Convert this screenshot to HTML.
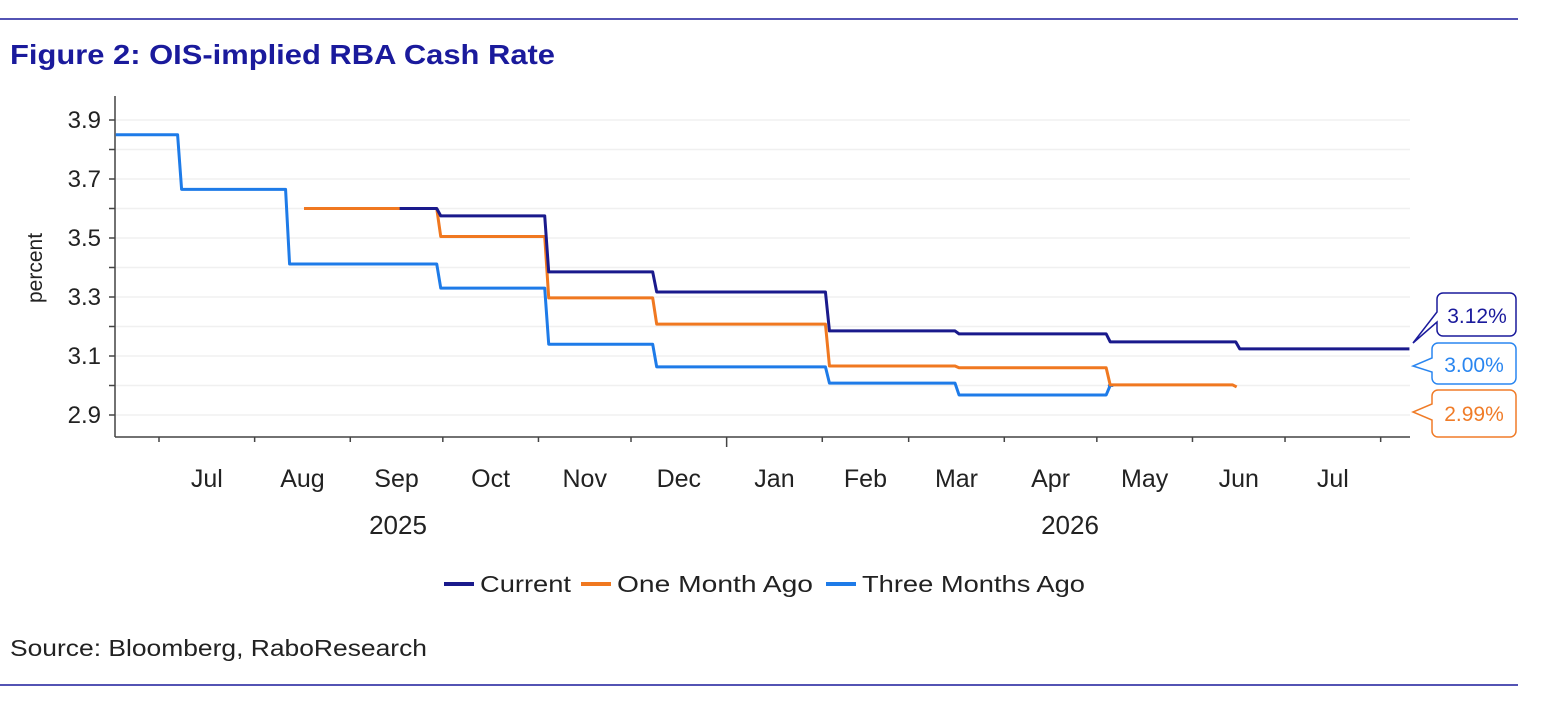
<!DOCTYPE html>
<html><head><meta charset="utf-8">
<style>
body{margin:0;background:#fff;width:1542px;height:702px;overflow:hidden;font-family:"Liberation Sans",sans-serif;}
svg text{font-family:"Liberation Sans",sans-serif;}
</style></head>
<body>
<svg width="1542" height="702">
<line x1="0" y1="19" x2="1518" y2="19" stroke="#1a1a9c" stroke-width="1.5"/>
<text x="10" y="64" font-size="28" font-weight="bold" fill="#1a1a9c" textLength="545" lengthAdjust="spacingAndGlyphs">Figure 2: OIS-implied RBA Cash Rate</text>
<g id="grid"></g>
<g id="axes"></g>
<g id="series"></g>
<text transform="translate(42,268) rotate(-90)" text-anchor="middle" font-size="21" fill="#222">percent</text>
<text x="398" y="534" text-anchor="middle" font-size="26" fill="#222">2025</text>
<text x="1070" y="534" text-anchor="middle" font-size="26" fill="#222">2026</text>
<g>
<path d="M1443,293 H1510 a6,6 0 0 1 6,6 V330 a6,6 0 0 1 -6,6 H1443 a6,6 0 0 1 -6,-6 V322 L1413,343 L1437,312 V299 a6,6 0 0 1 6,-6Z" fill="#fff" stroke="#1a1a9c" stroke-width="1.5"/>
<text x="1477" y="323" text-anchor="middle" font-size="21" fill="#1a1a9c">3.12%</text></g>
<g>
<path d="M1438,343 H1510 a6,6 0 0 1 6,6 V378 a6,6 0 0 1 -6,6 H1438 a6,6 0 0 1 -6,-6 V372 L1413,366 L1432,358 V349 a6,6 0 0 1 6,-6Z" fill="#fff" stroke="#2a86f0" stroke-width="1.5"/>
<text x="1474" y="372" text-anchor="middle" font-size="21" fill="#2a86f0">3.00%</text></g>
<g>
<path d="M1438,390 H1510 a6,6 0 0 1 6,6 V431 a6,6 0 0 1 -6,6 H1438 a6,6 0 0 1 -6,-6 V420 L1413,412 L1432,404 V396 a6,6 0 0 1 6,-6Z" fill="#fff" stroke="#f07c28" stroke-width="1.5"/>
<text x="1474" y="421" text-anchor="middle" font-size="21" fill="#f07c28">2.99%</text></g>
<g>
<g><line x1="444" y1="584" x2="474" y2="584" stroke="#1a1a8c" stroke-width="4"/><text x="480" y="592" font-size="23" fill="#222" textLength="91" lengthAdjust="spacingAndGlyphs">Current</text></g>
<g><line x1="581" y1="584" x2="611" y2="584" stroke="#f07820" stroke-width="4"/><text x="617" y="592" font-size="23" fill="#222" textLength="196" lengthAdjust="spacingAndGlyphs">One Month Ago</text></g>
<g><line x1="826" y1="584" x2="856" y2="584" stroke="#1e7be8" stroke-width="4"/><text x="862" y="592" font-size="23" fill="#222" textLength="223" lengthAdjust="spacingAndGlyphs">Three Months Ago</text></g>
</g>
<text x="10" y="656" font-size="23" fill="#222" textLength="417" lengthAdjust="spacingAndGlyphs">Source: Bloomberg, RaboResearch</text>
<line x1="0" y1="685" x2="1518" y2="685" stroke="#1a1a9c" stroke-width="1.5"/>
</svg>
<script>
// days since 2025-07-01
const yTicks=[2.9,3.0,3.1,3.2,3.3,3.4,3.5,3.6,3.7,3.8,3.9];
const yLabels=["2.9","3.1","3.3","3.5","3.7","3.9"];
const monthLabels=["Jul","Aug","Sep","Oct","Nov","Dec","Jan","Feb","Mar","Apr","May","Jun","Jul"];
const monthStarts=[0,31,62,92,123,153,184,215,243,274,304,335,365,396];
const currentDays=[78,91,126,161,217,259,308,350,405];
const currentVals=[3.60,3.575,3.385,3.317,3.185,3.175,3.148,3.124,3.124];
const oneMonthDays=[47,91,126,161,217,259,308,349];
const oneMonthVals=[3.60,3.505,3.297,3.208,3.066,3.060,3.002,2.995];
const threeMonthDays=[-14,7,42,91,126,161,217,259,308,309];
const threeMonthVals=[3.85,3.665,3.412,3.33,3.14,3.063,3.008,2.968,3.0,3.0];

const NS="http://www.w3.org/2000/svg";
const X0=115,X1=1410,YT=96,YB=437;
function x(d){return 159+d*3.085;}
function y(v){return 120+(3.9-v)*295;}
function mk(tag,attrs,parent){const e=document.createElementNS(NS,tag);for(const k in attrs)e.setAttribute(k,attrs[k]);parent.appendChild(e);return e;}
const grid=document.getElementById('grid'),axes=document.getElementById('axes'),ser=document.getElementById('series');
yTicks.forEach(v=>{
  const g=mk('line',{x1:X0,x2:X1,y1:y(v),y2:y(v),stroke:'#f0f0f0','stroke-width':1.5},grid);
  
  
  const t=mk('line',{x1:X0-6,x2:X0,y1:y(v),y2:y(v),stroke:'#444','stroke-width':1.5},axes);
  
  
});
yLabels.forEach(s=>{
  const t=mk('text',{x:X0-14,y:y(parseFloat(s))+8,'text-anchor':'end','font-size':24,fill:'#222'},axes);
  t.textContent=s;
  
  
});
const ya=mk('line',{x1:X0,x2:X0,y1:YT,y2:YB,stroke:'#444','stroke-width':1.5},axes);


const xa=mk('line',{x1:X0,x2:X1,y1:YB,y2:YB,stroke:'#444','stroke-width':1.5},axes);


monthStarts.forEach((d,i)=>{
  const t=mk('line',{x1:x(d),x2:x(d),y1:YB,y2:YB+(i==6?10:5),stroke:'#444','stroke-width':1.5},axes);
  
  
  if(i<monthLabels.length){
    const l=mk('text',{x:(x(d)+x(monthStarts[i+1]))/2,y:487,'text-anchor':'middle','font-size':25,fill:'#222'},axes);
    l.textContent=monthLabels[i];
    
    
  }
});
function stepPath(days,vals){
  let p='M'+x(days[0])+','+y(vals[0]);
  for(let i=1;i<days.length;i++){
    p+=' L'+(x(days[i])-3)+','+y(vals[i-1])+' L'+(x(days[i])+1)+','+y(vals[i]);
  }
  return p;
}
[[threeMonthDays,threeMonthVals,'#1e7be8','line-three-months-ago'],
 [oneMonthDays,oneMonthVals,'#f07820','line-one-month-ago'],
 [currentDays,currentVals,'#1a1a8c','line-current']].forEach(s=>{
  const p=mk('path',{d:stepPath(s[0],s[1]),fill:'none',stroke:s[2],'stroke-width':3,'stroke-linejoin':'round'},ser);
  
  
});
</script>
</body></html>
